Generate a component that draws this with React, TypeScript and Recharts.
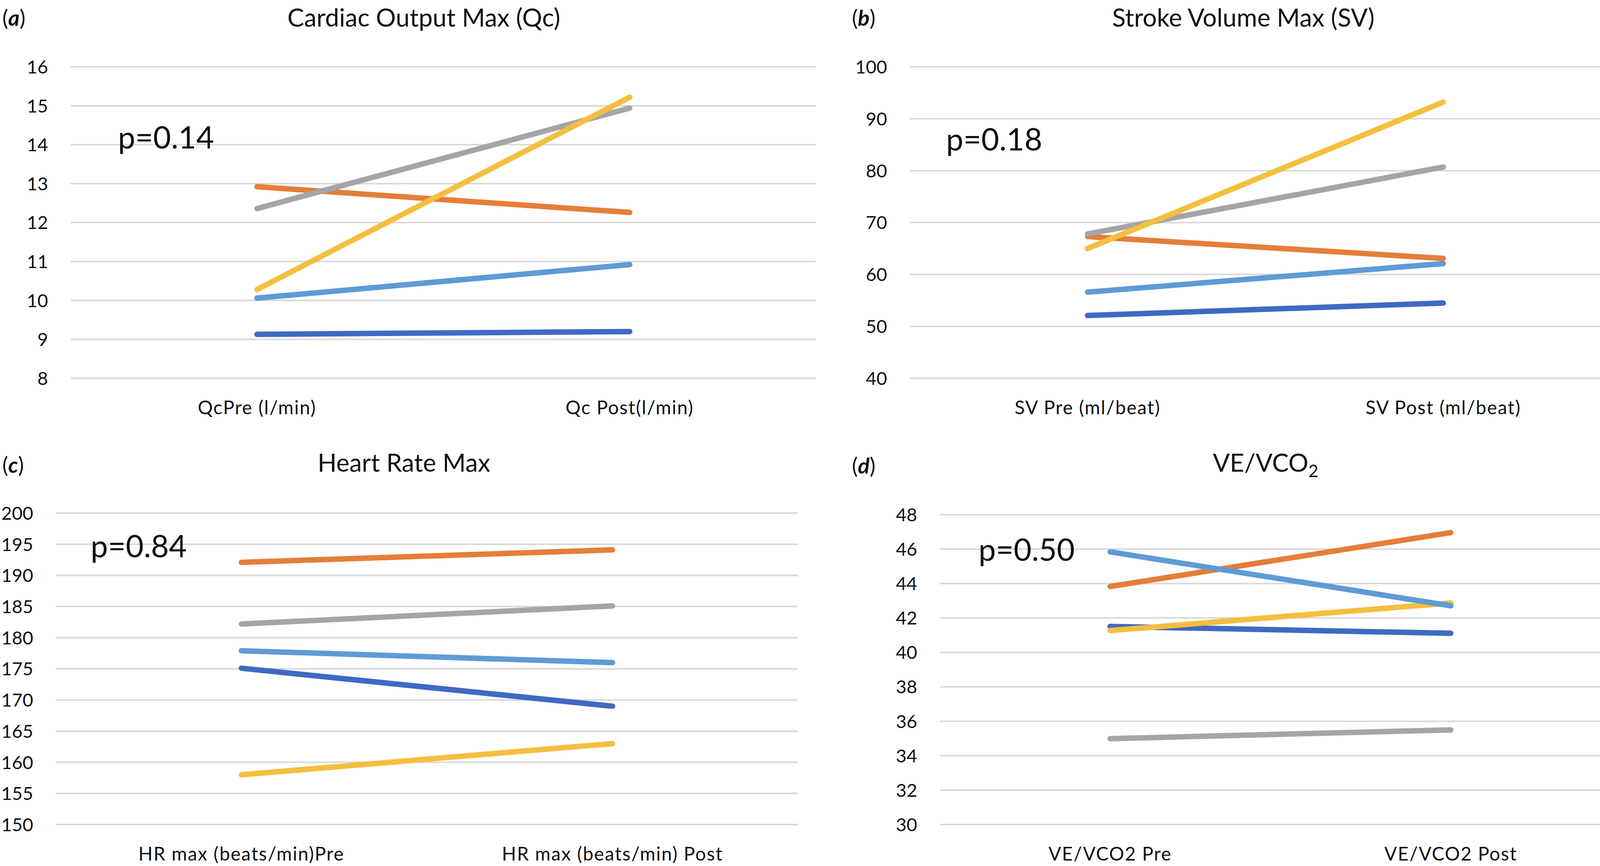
import React from "react";
import { LineChart, Line, XAxis, YAxis, CartesianGrid } from "recharts";

// values, subjects 1..5 in the original Excel order
const qcCategories = ["QcPre (l/min)", "Qc Post(l/min)"];
const qcPre = [9.13, 12.92, 12.36, 10.28, 10.06];
const qcPost = [9.2, 12.26, 14.94, 15.22, 10.92];
const qcTicks = [8, 9, 10, 11, 12, 13, 14, 15, 16];

const svCategories = ["SV Pre (ml/beat)", "SV Post (ml/beat)"];
const svPre = [52.1, 67.3, 67.8, 65.0, 56.6];
const svPost = [54.5, 63.1, 80.7, 93.2, 62.1];
const svTicks = [40, 50, 60, 70, 80, 90, 100];

const hrCategories = ["HR max (beats/min)Pre", "HR max (beats/min) Post"];
const hrPre = [175.1, 192.1, 182.2, 158.0, 177.9];
const hrPost = [169.0, 194.1, 185.1, 163.0, 176.0];
const hrTicks = [150, 155, 160, 165, 170, 175, 180, 185, 190, 195, 200];

const veCategories = ["VE/VCO2 Pre", "VE/VCO2 Post"];
const vePre = [41.51, 43.83, 34.99, 41.27, 45.84];
const vePost = [41.11, 46.96, 35.5, 42.87, 42.71];
const veTicks = [30, 32, 34, 36, 38, 40, 42, 44, 46, 48];

const seriesKeys = ["s1", "s2", "s3", "s4", "s5"];
const seriesColors = ["#4169C2", "#E57E3A", "#A5A5A5", "#F4BF3F", "#5E9BD6"];

const FONT = "Lato, 'Open Sans', sans-serif";

function buildRows(categories, pre, post) {
  return [pre, post].map((vals, i) => {
    const row = { cat: categories[i] };
    seriesKeys.forEach((k, j) => (row[k] = vals[j]));
    return row;
  });
}

function Panel({ x0, y0, plot, data, ticks }) {
  const width = plot.r - x0;
  const height = 1108;
  const yAxisW = plot.l - x0;
  const xAxisH = y0 + height - plot.b;
  const pad = (plot.r - plot.l) / 4;
  const labelY = plot.b + 92 - y0;

  return (
    <div style={{ position: "absolute", left: x0, top: y0 }}>
      <LineChart width={width} height={height} data={data} margin={{ top: plot.t - y0, right: 0, bottom: 0, left: 0 }}>
        <CartesianGrid vertical={false} stroke="#D9D9D9" strokeWidth={4} />
        <XAxis
          dataKey="cat"
          scale="point"
          padding={{ left: pad, right: pad }}
          axisLine={false}
          tickLine={false}
          interval={0}
          height={xAxisH}
          tick={(p) => (
            <text x={p.x} y={labelY} textAnchor="middle" fontFamily={FONT} fontSize={48} letterSpacing={2} fill="#111">
              {p.payload.value}
            </text>
          )}
        />
        <YAxis
          type="number"
          domain={[ticks[0], ticks[ticks.length - 1]]}
          ticks={ticks}
          width={yAxisW}
          axisLine={false}
          tickLine={false}
          interval={0}
          tick={(p) => (
            <text x={yAxisW - 58} y={p.y} dy="0.36em" textAnchor="end" fontFamily={FONT} fontSize={47} fill="#111">
              {p.payload.value}
            </text>
          )}
        />
        {seriesKeys.map((k, i) => (
          <Line
            key={k}
            type="linear"
            dataKey={k}
            stroke={seriesColors[i]}
            strokeWidth={14}
            strokeLinecap="round"
            dot={false}
            activeDot={false}
            isAnimationActive={false}
          />
        ))}
      </LineChart>
    </div>
  );
}

function Letter({ x, y, ch }) {
  return (
    <text x={x} y={y} fontFamily={FONT} fontSize={56} fill="#111">
      (<tspan fontWeight="bold" fontStyle="italic">{ch}</tspan>)
    </text>
  );
}

export default function App() {
  return (
    <div style={{ position: "absolute", left: 0, top: 0, width: 4150, height: 2216, background: "#fff", overflow: "hidden" }}>
      <Panel x0={0} y0={0} plot={{ l: 181, r: 2089, t: 171, b: 968 }} data={buildRows(qcCategories, qcPre, qcPost)} ticks={qcTicks} />
      <Panel x0={2100} y0={0} plot={{ l: 2329, r: 4150, t: 171, b: 968 }} data={buildRows(svCategories, svPre, svPost)} ticks={svTicks} />
      <Panel x0={0} y0={1108} plot={{ l: 143, r: 2043, t: 1313, b: 2110 }} data={buildRows(hrCategories, hrPre, hrPost)} ticks={hrTicks} />
      <Panel x0={2100} y0={1108} plot={{ l: 2406, r: 4150, t: 1317, b: 2110 }} data={buildRows(veCategories, vePre, vePost)} ticks={veTicks} />

      <svg width={4150} height={2216} style={{ position: "absolute", left: 0, top: 0, pointerEvents: "none" }}>
        <Letter x={6} y={66} ch="a" />
        <Letter x={2181} y={66} ch="b" />
        <Letter x={6} y={1210} ch="c" />
        <Letter x={2181} y={1212} ch="d" />

        <g fontFamily={FONT} fontSize={64} fill="#111" textAnchor="middle">
          <text x={1085} y={68}>Cardiac Output Max (Qc)</text>
          <text x={3183} y={68}>Stroke Volume Max (SV)</text>
          <text x={1034} y={1207}>Heart Rate Max</text>
          <text x={3240} y={1207}>
            VE/VCO<tspan fontSize={44} dy={14}>2</tspan>
          </text>
        </g>

        <g fontFamily={FONT} fontSize={79} fill="#111">
          <text x={302} y={380}>p=0.14</text>
          <text x={2422} y={385}>p=0.18</text>
          <text x={232} y={1426}>p=0.84</text>
          <text x={2505} y={1435}>p=0.50</text>
        </g>
      </svg>
    </div>
  );
}
